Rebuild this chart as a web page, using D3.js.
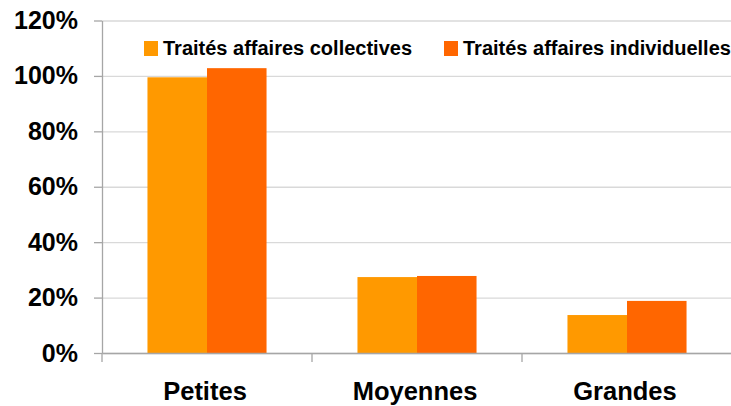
<!DOCTYPE html>
<html>
<head>
<meta charset="utf-8">
<script src="https://cdnjs.cloudflare.com/ajax/libs/d3/7.8.5/d3.min.js"></script>
<style>
    body { margin: 0; background: #fff; }
    svg { display: block; font-family: 'Liberation Sans', Arial, sans-serif; font-weight: bold; }
    .grid line { stroke: #d9d9d9; stroke-width: 1.3; }
    .grid path { display: none; }
    .y-axis path, .y-axis line, .x-axis path, .x-axis line { stroke: #a6a6a6; stroke-width: 1.3; }
</style>
</head>
<body>
<div id="chart"></div>
<script>
// Data
const categories = ['Petites', 'Moyennes', 'Grandes'];
const seriesNames = ['Traités affaires collectives', 'Traités affaires individuelles'];
const collectives = [0.995, 0.274, 0.137];
const individuelles = [1.028, 0.278, 0.188];
const yTicks = [0, 0.2, 0.4, 0.6, 0.8, 1.0, 1.2];

const colors = ['#ff9900', '#ff6600'];

const chart = {
    totalWidth: 731,
    totalHeight: 406,
    margin: { top: 20.5, bottom: 53, left: 102, right: -1 }
};
chart.width = chart.totalWidth - (chart.margin.left + chart.margin.right);
chart.height = chart.totalHeight - (chart.margin.top + chart.margin.bottom);

const svg = d3.select('#chart')
    .append('svg')
    .attr('width', chart.totalWidth)
    .attr('height', chart.totalHeight);

const g = svg.append('g')
    .attr('transform', `translate(${chart.margin.left}, ${chart.margin.top})`);

// Scales
const xScale = d3.scaleBand()
    .domain(categories)
    .range([0, chart.width])
    .paddingInner(0.433)
    .paddingOuter(0.2165);

const xInner = d3.scaleBand()
    .domain(seriesNames)
    .range([0, xScale.bandwidth()]);

const yScale = d3.scaleLinear()
    .domain([0, 1.2])
    .range([chart.height, 0]);

const colorScale = d3.scaleOrdinal()
    .domain(seriesNames)
    .range(colors);

// Gridlines
g.append('g')
    .classed('grid', true)
    .call(d3.axisLeft(yScale).tickValues(yTicks).tickSize(-chart.width).tickFormat(''));

// Bars
const rows = categories.map((c, i) => ({
    category: c,
    values: [
        { series: seriesNames[0], value: collectives[i] },
        { series: seriesNames[1], value: individuelles[i] }
    ]
}));

g.append('g')
    .selectAll('g')
    .data(rows)
    .enter()
    .append('g')
    .attr('transform', d => `translate(${xScale(d.category)}, 0)`)
    .selectAll('rect')
    .data(d => d.values)
    .enter()
    .append('rect')
    .attr('x', d => xInner(d.series))
    .attr('width', xInner.bandwidth())
    .attr('y', d => yScale(d.value))
    .attr('height', d => yScale(0) - yScale(d.value))
    .attr('fill', d => colorScale(d.series));

// Y-axis
const yAxis = g.append('g')
    .classed('y-axis', true)
    .call(d3.axisLeft(yScale)
        .tickValues(yTicks)
        .tickSize(8)
        .tickSizeOuter(0)
        .tickPadding(16)
        .tickFormat(d3.format('.0%')));

yAxis.selectAll('text')
    .attr('fill', '#000')
    .style('font-size', '25px')
    .style('font-weight', 'bold');

// X-axis
const xAxis = g.append('g')
    .classed('x-axis', true)
    .attr('transform', `translate(0, ${chart.height})`)
    .call(d3.axisBottom(xScale).tickSize(0).tickPadding(0));

xAxis.selectAll('text').remove();

// category separator ticks
const step = xScale.step();
xAxis.selectAll('.sep')
    .data(d3.range(categories.length + 1))
    .enter()
    .append('line')
    .classed('sep', true)
    .attr('x1', i => i * step)
    .attr('x2', i => i * step)
    .attr('y1', 0)
    .attr('y2', 9);

xAxis.selectAll('.cat-label')
    .data(categories)
    .enter()
    .append('text')
    .classed('cat-label', true)
    .attr('x', d => xScale(d) + xScale.bandwidth() / 2 - 2)
    .attr('y', 47)
    .attr('text-anchor', 'middle')
    .attr('fill', '#000')
    .style('font-size', '25.5px')
    .text(d => d);

// Legend
const legendPos = [144, 444];
const legend = svg.append('g')
    .classed('legend', true);

const items = legend.selectAll('g')
    .data(seriesNames)
    .enter()
    .append('g')
    .attr('transform', (d, i) => `translate(${legendPos[i]}, 41)`);

items.append('rect')
    .attr('width', 14)
    .attr('height', 15)
    .attr('fill', d => colorScale(d));

items.append('text')
    .attr('x', 19)
    .attr('y', 14)
    .attr('fill', '#000')
    .style('font-size', '20px')
    .text(d => d);
</script>
</body>
</html>
